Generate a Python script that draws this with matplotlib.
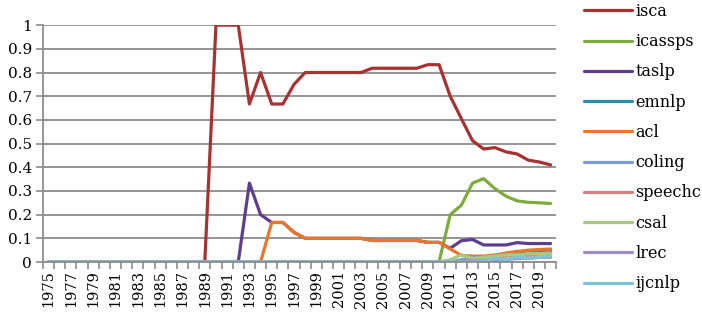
import matplotlib
matplotlib.use('Agg')
import matplotlib.pyplot as plt
from matplotlib.ticker import FixedLocator

plt.rcParams['font.family'] = ['DejaVu Serif']

years = list(range(1975, 2021))

# values for 1975..2020 (46 points)
isca = [0] * 15 + [1.0, 1.0, 1.0, 0.667, 0.8, 0.667, 0.667, 0.75, 0.8,
                   0.8, 0.8, 0.8, 0.8, 0.8, 0.818, 0.818, 0.818, 0.818, 0.818,
                   0.833, 0.833, 0.7, 0.605, 0.512, 0.477, 0.483, 0.465, 0.456,
                   0.43, 0.422, 0.41]
icassps = [0] * 36 + [0.2, 0.24, 0.333, 0.352, 0.31, 0.278, 0.258, 0.252,
                      0.25, 0.247]
acl = [0] * 20 + [0.167, 0.167, 0.125, 0.1, 0.1, 0.1, 0.1, 0.1, 0.1, 0.091,
                  0.091, 0.091, 0.091, 0.091, 0.083, 0.083, 0.055, 0.028,
                  0.025, 0.025, 0.03, 0.038, 0.045, 0.05, 0.053, 0.055]
taslp = [0] * 18 + [0.333, 0.2] + acl[20:36] + [0.058, 0.09, 0.095, 0.072,
                                               0.072, 0.072, 0.082, 0.078,
                                               0.078, 0.078]
emnlp = [0] * 37 + [0.005, 0.01, 0.015, 0.02, 0.03, 0.035, 0.04, 0.047, 0.05]
coling = [0] * 37 + [0.01, 0.02, 0.02, 0.025, 0.03, 0.03, 0.03, 0.035, 0.04]
speechc = [0] * 38 + [0.01, 0.02, 0.02, 0.025, 0.03, 0.03, 0.035, 0.04]
csal = [0] * 36 + [0.01, 0.03, 0.015, 0.02, 0.025, 0.03, 0.03, 0.035, 0.035,
                   0.035]
lrec = [0] * 38 + [0.005, 0.005, 0.01, 0.01, 0.015, 0.015, 0.02, 0.02]
ijcnlp = [0] * 39 + [0.005, 0.015, 0.01, 0.02, 0.015, 0.02, 0.025]

series = [('isca', isca, '#A83230'), ('icassps', icassps, '#7DAB3C'),
          ('taslp', taslp, '#5E3D8E'), ('emnlp', emnlp, '#2A8DAA'),
          ('acl', acl, '#E8772A'), ('coling', coling, '#7B9CD0'),
          ('speechc', speechc, '#D88080'), ('csal', csal, '#A8CA80'),
          ('lrec', lrec, '#A08CC0'), ('ijcnlp', ijcnlp, '#7EC3D8')]

fig = plt.figure(figsize=(7.02, 3.18), dpi=100)
ax = fig.add_axes([0.0613, 0.176, 0.731, 0.745])

x = list(range(len(years)))
for name, vals, col in series:
    ax.plot(x, vals, color=col, lw=2.3, label=name, solid_capstyle='round')

ax.set_xlim(-0.5, len(years) - 0.5)
ax.set_ylim(0, 1)
ax.set_yticks([i / 10 for i in range(11)])
ax.set_yticklabels(['0'] + ['0.%d' % i for i in range(1, 10)] + ['1'])
ax.set_xticks(x[::2])
ax.set_xticklabels([str(y) for y in years[::2]], rotation=90)
ax.xaxis.set_minor_locator(FixedLocator([i - 0.5 for i in range(len(years) + 1)]))
ax.tick_params(axis='x', which='major', length=0, pad=6, labelsize=10.5)
ax.tick_params(axis='x', which='minor', length=5, width=1.2, color='#8c8c8c')
ax.tick_params(axis='y', length=5, width=1.2, color='#8c8c8c', labelsize=11, pad=3)

ax.grid(axis='y', color='#8c8c8c', lw=1.3)
ax.set_axisbelow(True)
for s in ['top', 'right']:
    ax.spines[s].set_visible(False)
for s in ['left', 'bottom']:
    ax.spines[s].set_color('#8c8c8c')
    ax.spines[s].set_linewidth(1.3)

fig.legend(loc='upper left', bbox_to_anchor=(0.812, 1.036), frameon=False,
           fontsize=11.5, handlelength=2.95, handletextpad=0.25, labelspacing=0.83)

fig.savefig('out.png', dpi=100)
